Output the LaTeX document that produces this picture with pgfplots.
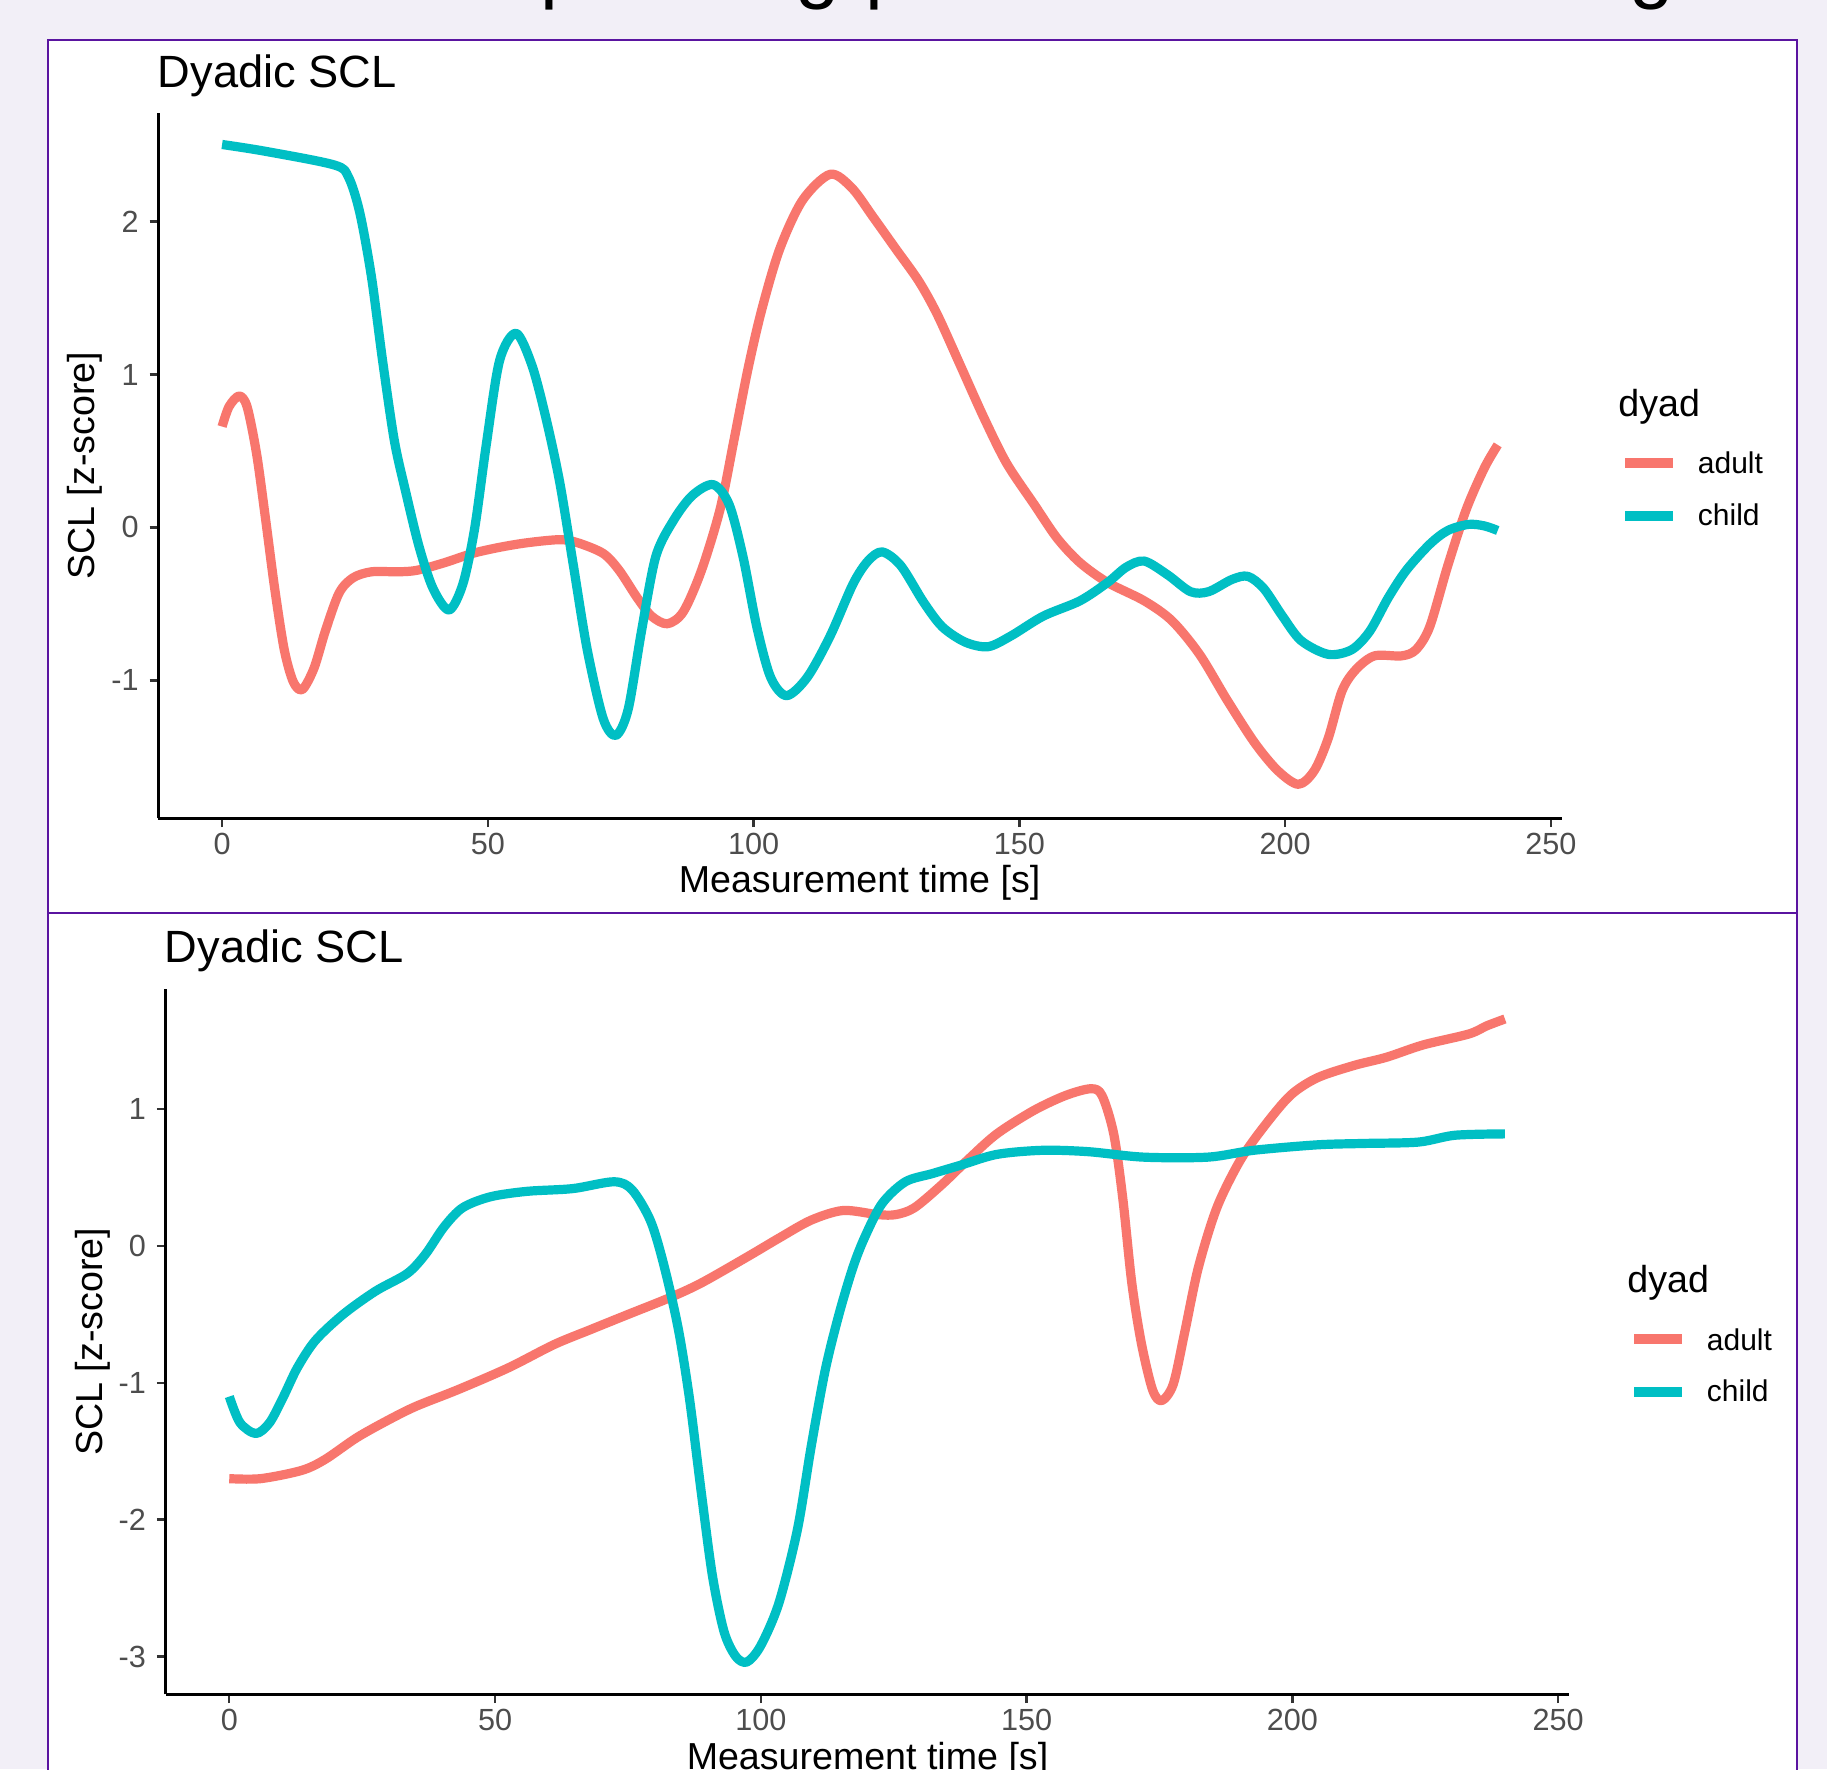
\documentclass[border=0pt]{standalone}
\usepackage{pgfplots}
\usepackage{pgfplotstable}
\pgfplotsset{compat=1.18}
\usepackage{fontspec}
\setmainfont{Liberation Sans}
\definecolor{adult}{HTML}{F8766D}
\definecolor{child}{HTML}{00BFC4}
\definecolor{bg}{RGB}{242,239,247}
\definecolor{framec}{RGB}{90,20,160}
\definecolor{ticklab}{HTML}{4D4D4D}
\definecolor{tickcol}{HTML}{333333}

\pgfplotstableread{
t v
0 0.66
1.3 0.79
3.2 0.86
4.7 0.79
6.5 0.48
8.2 0.05
9.9 -0.40
11.7 -0.80
13.4 -1.01
15.1 -1.06
17.3 -0.92
19.4 -0.68
22.0 -0.43
24.6 -0.33
28.1 -0.29
33.2 -0.29
36.7 -0.28
41.9 -0.23
47.1 -0.17
52.2 -0.13
57.4 -0.10
63.5 -0.08
66.9 -0.10
71.7 -0.17
74.7 -0.28
78.1 -0.46
80.8 -0.58
83.8 -0.63
86.8 -0.55
90.2 -0.28
93.7 0.12
96.3 0.57
98.9 1.03
101.5 1.42
104.9 1.82
109.2 2.14
114.4 2.31
118.5 2.22
122.5 2.03
126.8 1.82
131.1 1.61
134.6 1.39
138.9 1.06
143.3 0.72
147.6 0.42
152.8 0.15
157.1 -0.07
161.4 -0.23
166.6 -0.36
173.5 -0.48
178.7 -0.61
183.9 -0.83
189.1 -1.13
194.3 -1.41
198.6 -1.59
202.5 -1.68
205.5 -1.59
208.1 -1.38
210.7 -1.07
213.3 -0.93
216.8 -0.84
221.9 -0.84
224.6 -0.80
227.2 -0.65
230.6 -0.25
234.1 0.12
237.5 0.39
240 0.54
}\topadult

\pgfplotstableread{
t v
0 2.505
8.2 2.46
21.2 2.37
23.8 2.29
25.9 2.06
28.1 1.64
30.2 1.09
32.4 0.57
34.5 0.24
37.1 -0.13
39.7 -0.40
42.7 -0.54
45.3 -0.37
47.5 -0.01
49.7 0.54
52.2 1.09
55.3 1.27
58.3 1.06
60.9 0.72
63.5 0.30
66.1 -0.25
68.7 -0.80
71.7 -1.25
74.1 -1.36
76.4 -1.19
78.9 -0.68
81.6 -0.19
85.0 0.05
88.5 0.21
92.4 0.28
95.4 0.15
98.0 -0.19
100.6 -0.65
103.2 -0.98
106.2 -1.10
110.1 -0.98
114.4 -0.71
118.7 -0.37
121.5 -0.22
124.2 -0.16
127.7 -0.25
132.0 -0.49
135.5 -0.65
139.8 -0.75
144.1 -0.78
148.4 -0.71
154.5 -0.58
161.4 -0.48
166.6 -0.36
170.1 -0.26
173.5 -0.22
177.9 -0.31
182.2 -0.42
185.6 -0.42
190.0 -0.34
193.0 -0.32
196.0 -0.40
199.5 -0.58
203.0 -0.74
208.1 -0.83
212.5 -0.80
215.9 -0.68
219.4 -0.46
222.8 -0.28
227.2 -0.11
230.6 -0.02
234.5 0.02
237.5 0.01
240 -0.02
}\topchild

\pgfplotstableread{
t v
0 -1.70
5.9 -1.70
13.6 -1.64
18.0 -1.56
24.0 -1.40
30.0 -1.27
35.2 -1.17
43.0 -1.05
52.5 -0.89
61.1 -0.72
68.0 -0.61
75.0 -0.50
82.7 -0.38
88.8 -0.27
97.4 -0.08
103.5 0.06
109.5 0.19
115.5 0.26
122.0 0.23
125.4 0.23
128.9 0.28
134.1 0.45
139.2 0.64
144.4 0.82
151.3 0.99
157.3 1.10
162.1 1.15
164.2 1.10
166.4 0.82
168.1 0.35
169.8 -0.27
171.6 -0.71
173.7 -1.05
175.4 -1.13
177.6 -1.01
179.7 -0.64
182.3 -0.16
185.8 0.28
190.1 0.62
194.4 0.86
199.6 1.10
204.7 1.23
211.6 1.32
217.7 1.38
224.6 1.47
233.2 1.55
236.6 1.61
240 1.66
}\botadult

\pgfplotstableread{
t v
0 -1.10
2.0 -1.29
5.0 -1.37
7.6 -1.29
10.2 -1.10
12.8 -0.89
16.2 -0.69
21.4 -0.50
27.5 -0.33
33.5 -0.20
36.9 -0.06
40.4 0.14
43.9 0.28
49.1 0.36
56.0 0.40
64.6 0.42
72.4 0.47
75.8 0.41
79.3 0.18
81.9 -0.16
84.5 -0.61
86.6 -1.12
88.8 -1.80
90.9 -2.41
93.1 -2.82
95.3 -3.00
97.4 -3.04
100.0 -2.92
103.4 -2.61
106.9 -2.07
109.5 -1.46
112.1 -0.91
114.7 -0.50
117.3 -0.16
119.5 0.06
122.8 0.31
127.2 0.47
132.3 0.53
137.5 0.59
144.4 0.67
153.0 0.70
161.6 0.69
172.0 0.65
184.1 0.65
192.7 0.70
204.7 0.74
213.4 0.75
223.7 0.76
230.6 0.81
240 0.82
}\botchild

\pgfplotsset{
  panel/.style={
    scale only axis, width=701.6pt, height=352.7pt,
    xmin=-12, xmax=252, xtick={0,50,100,150,200,250},
    axis x line*=bottom, axis y line*=left,
    axis line style={black, line width=1.35pt, -},
    xtick pos=left, ytick pos=left,
    tick align=outside, major tick length=4.35pt,
    every tick/.style={tickcol, line width=1.2pt},
    tick label style={font=\fontsize{15.3}{18}\selectfont, text=ticklab},
    /pgf/number format/assume math mode=true,
    xticklabel style={anchor=north, inner sep=0pt, yshift=-3pt},
    yticklabel style={anchor=east, inner sep=0pt, xshift=-5.3pt},
  },
  adultline/.style={adult, line width=4.6pt, smooth, tension=0.5, line cap=butt, line join=round},
  childline/.style={child, line width=4.6pt, smooth, tension=0.5, line cap=butt, line join=round},
}

\begin{document}
\begin{tikzpicture}[x=0.5pt,y=0.5pt]
\fill[bg] (0,0) rectangle (1827,1769);
\fill[white] (48,1729) rectangle (1797,-31);
\draw[framec, line width=1.3pt] (48,1729) rectangle (1797,-31);
\draw[framec, line width=1.3pt] (48,856) -- (1797,856);

% cut-off slide title fragments
\begin{scope}[every node/.style={anchor=base west, inner sep=0pt, font=\fontsize{40}{48}\selectfont}]
\node at (540,1775.8) {p};
\node at (795,1775.8) {g};
\node at (865,1775.8) {p};
\node at (1629,1775.8) {g};
\end{scope}

% ---------- top panel ----------
\begin{axis}[panel, at={(79.15pt,475.3pt)}, anchor=south west,
  ymin=-1.903, ymax=2.711, ytick={-1,0,1,2}]
\addplot[adultline] table[x=t,y=v] {\topadult};
\addplot[childline] table[x=t,y=v] {\topchild};
\end{axis}
\node[anchor=base west, inner sep=0pt, font=\fontsize{22.6}{27}\selectfont] at (157.5,1681.7) {Dyadic SCL};
\node[anchor=base, inner sep=0pt, font=\fontsize{18.8}{22}\selectfont] at (859.6,876) {Measurement time [s]};
\node[rotate=90, anchor=base, inner sep=0pt, font=\fontsize{18.8}{22}\selectfont] at (94.6,1303.3) {SCL [z-score]};
\node[anchor=base west, inner sep=0pt, font=\fontsize{18.8}{22}\selectfont] at (1618,1352.3) {dyad};
\draw[adult, line width=5pt] (1625,1305.7) -- (1673.3,1305.7);
\draw[child, line width=5pt] (1625,1253.3) -- (1673.3,1253.3);
\node[anchor=base west, inner sep=0pt, font=\fontsize{15}{18}\selectfont] at (1697.5,1295) {adult};
\node[anchor=base west, inner sep=0pt, font=\fontsize{15}{18}\selectfont] at (1697.5,1243.3) {child};

% ---------- bottom panel ----------
\begin{axis}[panel, at={(82.75pt,37.3pt)}, anchor=south west,
  ymin=-3.277, ymax=1.879, ytick={-3,-2,-1,0,1}]
\addplot[adultline] table[x=t,y=v] {\botadult};
\addplot[childline] table[x=t,y=v] {\botchild};
\end{axis}
\node[anchor=base west, inner sep=0pt, font=\fontsize{22.6}{27}\selectfont] at (164.5,806.3) {Dyadic SCL};
\node[anchor=base, inner sep=0pt, font=\fontsize{18.8}{22}\selectfont] at (867.5,0) {Measurement time [s]};
\node[rotate=90, anchor=base, inner sep=0pt, font=\fontsize{18.8}{22}\selectfont] at (102,427.3) {SCL [z-score]};
\node[anchor=base west, inner sep=0pt, font=\fontsize{18.8}{22}\selectfont] at (1627,476.1) {dyad};
\draw[adult, line width=5pt] (1634,429.5) -- (1682.3,429.5);
\draw[child, line width=5pt] (1634,377.1) -- (1682.3,377.1);
\node[anchor=base west, inner sep=0pt, font=\fontsize{15}{18}\selectfont] at (1706.5,418.8) {adult};
\node[anchor=base west, inner sep=0pt, font=\fontsize{15}{18}\selectfont] at (1706.5,367.1) {child};

\pgfresetboundingbox
\path[use as bounding box] (0,0) rectangle (1827,1769);
\end{tikzpicture}
\end{document}
